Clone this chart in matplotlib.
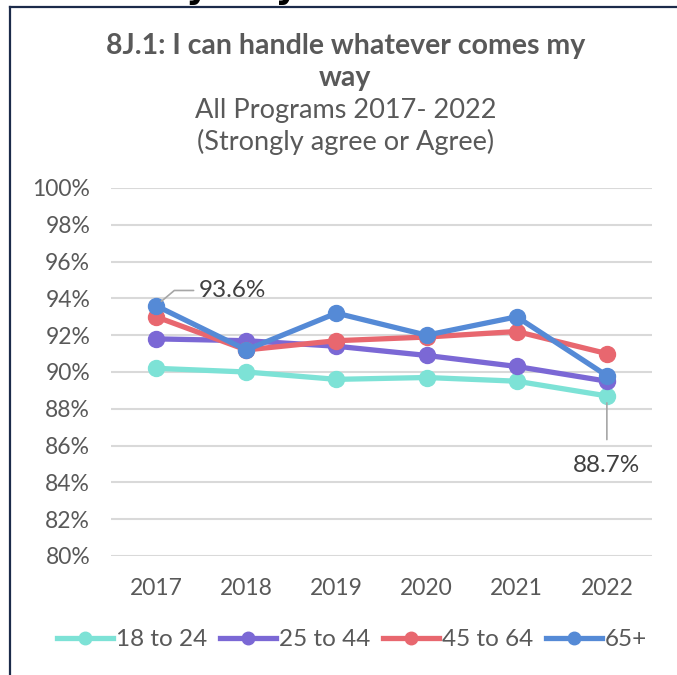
import numpy as np
import matplotlib.pyplot as plt
from matplotlib.lines import Line2D

# Data
years = ["2017", "2018", "2019", "2020", "2021", "2022"]
age_18_24 = [90.2, 90.0, 89.6, 89.7, 89.5, 88.7]
age_25_44 = [91.8, 91.7, 91.4, 90.9, 90.3, 89.5]
age_45_64 = [93.0, 91.2, 91.7, 91.9, 92.2, 91.0]
age_65_up = [93.6, 91.2, 93.2, 92.0, 93.0, 89.8]
series_names = ["18 to 24", "25 to 44", "45 to 64", "65+"]
y_ticks = [80, 82, 84, 86, 88, 90, 92, 94, 96, 98, 100]

colors = ["#7DE2D6", "#7B68D5", "#E8676F", "#558AD6"]
text_c = "#595959"
plt.rcParams['font.family'] = ['Lato', 'DejaVu Sans']

fig = plt.figure(figsize=(6.77, 6.75), dpi=100)
ax = fig.add_axes([0.164, 0.1763, 0.799, 0.5452])

x = np.arange(len(years))
all_series = [age_18_24, age_25_44, age_45_64, age_65_up]
for vals, name, c in zip(all_series, series_names, colors):
    ax.plot(x, vals, color=c, lw=3.8, marker='o', ms=11.5, label=name,
            solid_capstyle='round', zorder=3)

ax.set_xlim(-0.5, len(years) - 0.5)
ax.set_ylim(80, 100)
ax.set_xticks(x)
ax.set_xticklabels(years)
ax.set_yticks(y_ticks)
ax.set_yticklabels([f"{v}%" for v in y_ticks])
ax.tick_params(axis='both', length=0, labelsize=16.5, colors=text_c)
ax.tick_params(axis='y', pad=15)
ax.tick_params(axis='x', pad=16)
ax.grid(axis='y', color='#D9D9D9', lw=1.5)
ax.set_axisbelow(True)
for s in ax.spines.values():
    s.set_visible(False)

# data labels with leader lines
ax.annotate(f"{age_65_up[0]}%", xy=(x[0], age_65_up[0]), xytext=(31, 11),
            textcoords='offset points', ha='left', va='center', fontsize=17.5,
            color='#404040',
            arrowprops=dict(arrowstyle='-', color='#A6A6A6', lw=1.2,
                            shrinkA=2, shrinkB=5,
                            connectionstyle="angle,angleA=0,angleB=40,rad=0"))
ax.annotate(f"{age_18_24[-1]}%", xy=(x[-1], age_18_24[-1]), xytext=(0, -50),
            textcoords='offset points', ha='center', va='center', fontsize=17.5,
            color='#404040',
            arrowprops=dict(arrowstyle='-', color='#A6A6A6', lw=1.2,
                            shrinkA=9, shrinkB=5))

# titles
fig.text(0.51, 0.932, "8J.1: I can handle whatever comes my", ha='center',
         va='center', fontsize=20.5, fontweight='bold', color=text_c)
fig.text(0.51, 0.885, "way", ha='center', va='center', fontsize=20.5,
         fontweight='bold', color=text_c)
fig.text(0.51, 0.837, "All Programs 2017- 2022", ha='center', va='center',
         fontsize=19.5, color=text_c)
fig.text(0.51, 0.790, "(Strongly agree or Agree)", ha='center', va='center',
         fontsize=19.5, color=text_c)

# legend
handles = [Line2D([], [], color=c, lw=3.8, marker='o', ms=9) for c in colors]
leg = fig.legend(handles, series_names, loc='center', bbox_to_anchor=(0.52, 0.052),
                 ncol=4, frameon=False, fontsize=17.5, handlelength=2.3,
                 handletextpad=0.1, columnspacing=0.55)
for t in leg.get_texts():
    t.set_color(text_c)

# frame of the screenshot and the cut-off heading above it
fig.add_artist(Line2D([10 / 677, 10 / 677], [0, 1 - 7 / 675], color='#1C2B4A',
                      lw=1.6, transform=fig.transFigure))
fig.add_artist(Line2D([10 / 677, 1], [1 - 7 / 675, 1 - 7 / 675], color='#1C2B4A',
                      lw=1.6, transform=fig.transFigure))
fig.text(150 / 677, 1 + 2 / 675, "my way", ha='left', va='baseline', fontsize=25,
         fontweight='bold', color='black', family='DejaVu Sans')

fig.savefig('out.png', dpi=100)
